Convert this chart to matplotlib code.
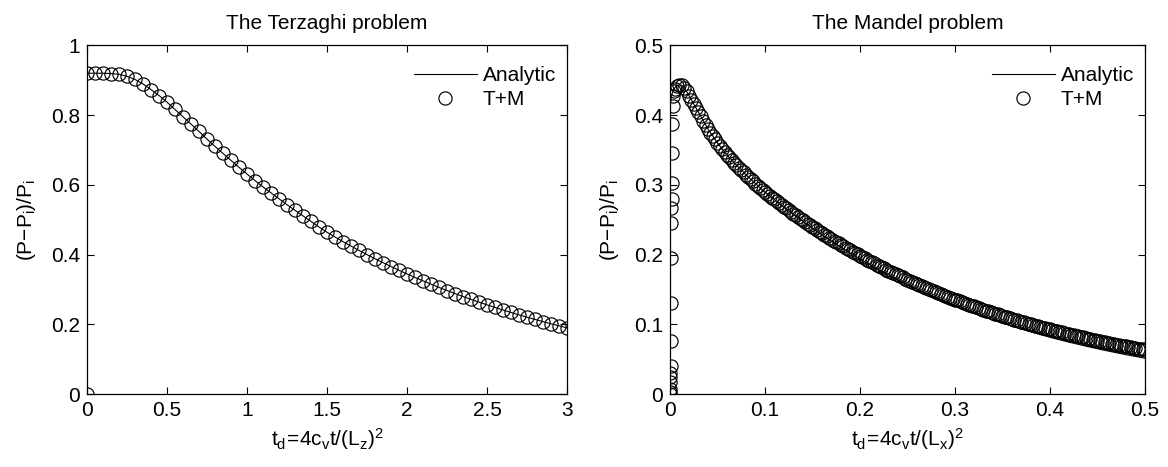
import numpy as np
import matplotlib
matplotlib.use('Agg')
import matplotlib.pyplot as plt
from matplotlib.ticker import FormatStrFormatter

plt.rcParams['font.family'] = ['Liberation Sans', 'DejaVu Sans']
plt.rcParams['font.size'] = 15
plt.rcParams['mathtext.fontset'] = 'custom'
plt.rcParams['mathtext.rm'] = 'Liberation Sans'
plt.rcParams['mathtext.it'] = 'Liberation Sans'

# ---- Terzaghi problem (left) ----
terz_t = [0.00, 0.05, 0.10, 0.15, 0.20, 0.25, 0.30, 0.35, 0.40, 0.45,
          0.50, 0.55, 0.60, 0.65, 0.70, 0.75, 0.80, 0.85, 0.90, 0.95,
          1.00, 1.05, 1.10, 1.15, 1.20, 1.25, 1.30, 1.35, 1.40, 1.45,
          1.50, 1.55, 1.60, 1.65, 1.70, 1.75, 1.80, 1.85, 1.90, 1.95,
          2.00, 2.05, 2.10, 2.15, 2.20, 2.25, 2.30, 2.35, 2.40, 2.45,
          2.50, 2.55, 2.60, 2.65, 2.70, 2.75, 2.80, 2.85, 2.90, 2.95, 3.00]
terz_p = [0.920, 0.920, 0.920, 0.919, 0.917, 0.911, 0.902, 0.889, 0.873, 0.856,
          0.837, 0.816, 0.795, 0.774, 0.753, 0.731, 0.710, 0.690, 0.670, 0.650,
          0.631, 0.612, 0.594, 0.577, 0.560, 0.543, 0.527, 0.511, 0.495, 0.479,
          0.4640, 0.4504, 0.4372, 0.4244, 0.4119, 0.3999, 0.3881, 0.3768, 0.3657, 0.3550,
          0.3446, 0.3345, 0.3247, 0.3152, 0.3059, 0.2970, 0.2883, 0.2798, 0.2716, 0.2637,
          0.2559, 0.2484, 0.2411, 0.2341, 0.2272, 0.2205, 0.2141, 0.2078, 0.2017, 0.1958, 0.1900]
# numerical result also has the initial state p=0 at t=0
terz_tm_t = [0.0] + terz_t
terz_tm_p = [0.0] + terz_p

# ---- Mandel problem (right) ----
# early time steps (vertical column near t=0)
mandel_t0 = [0.0, 0.0001, 0.0002, 0.0003, 0.0004, 0.0005, 0.0006, 0.0008, 0.0010, 0.0012,
             0.0014, 0.0016, 0.0018, 0.0020, 0.0023, 0.0026, 0.0030, 0.0035, 0.0040]
mandel_p0 = [0.000, 0.003, 0.008, 0.017, 0.024, 0.031, 0.040, 0.076, 0.131, 0.195,
             0.246, 0.267, 0.279, 0.302, 0.345, 0.387, 0.413, 0.427, 0.434]
# regular steps, dt = 0.0025 from 0.005 to 0.5
mandel_p = [
    0.4380, 0.4415, 0.4430, 0.4425, 0.4395, 0.4340, 0.4280, 0.4220, 0.4160, 0.4100,
    0.4040, 0.3980, 0.3920, 0.3860, 0.3800, 0.3750, 0.3700, 0.3650, 0.3600, 0.3557,
    0.3514, 0.3472, 0.3430, 0.3393, 0.3356, 0.3319, 0.3283, 0.3248, 0.3213, 0.3179,
    0.3145, 0.3113, 0.3081, 0.3049, 0.3018, 0.2988, 0.2958, 0.2929, 0.2900,
    0.2873, 0.2845, 0.2818, 0.2792, 0.2765, 0.2739, 0.2713, 0.2688, 0.2662, 0.2637,
    0.2612, 0.2588, 0.2563, 0.2539, 0.2515, 0.2491, 0.2468, 0.2444, 0.2421, 0.2398,
    0.2376, 0.2353, 0.2331, 0.2309, 0.2287, 0.2265, 0.2244, 0.2223, 0.2202, 0.2181,
    0.2160, 0.2140, 0.2120, 0.2100, 0.2080, 0.2060, 0.2041, 0.2021, 0.2002, 0.1983,
    0.1964, 0.1946, 0.1928, 0.1909, 0.1891, 0.1873, 0.1856, 0.1838, 0.1821, 0.1803,
    0.1786, 0.1770, 0.1753, 0.1736, 0.1720, 0.1704, 0.1687, 0.1672, 0.1656, 0.1640,
    0.1625, 0.1609, 0.1594, 0.1579, 0.1564, 0.1549, 0.1535, 0.1520, 0.1506, 0.1491,
    0.1477, 0.1463, 0.1449, 0.1436, 0.1422, 0.1409, 0.1395, 0.1382, 0.1369, 0.1356,
    0.1343, 0.1330, 0.1318, 0.1305, 0.1293, 0.1281, 0.1269, 0.1257, 0.1245, 0.1233,
    0.1221, 0.1210, 0.1198, 0.1187, 0.1176, 0.1165, 0.1154, 0.1143, 0.1132, 0.1121,
    0.1111, 0.1100, 0.1090, 0.1080, 0.1069, 0.1059, 0.1049, 0.1039, 0.1029, 0.1020,
    0.1010, 0.1001, 0.0991, 0.0982, 0.0972, 0.0963, 0.0954, 0.0945, 0.0936, 0.0927,
    0.0919, 0.0910, 0.0901, 0.0893, 0.0884, 0.0876, 0.0868, 0.0859, 0.0851, 0.0843,
    0.0835, 0.0827, 0.0820, 0.0812, 0.0804, 0.0797, 0.0789, 0.0782, 0.0774, 0.0767,
    0.0760, 0.0752, 0.0745, 0.0738, 0.0731, 0.0724, 0.0718, 0.0711, 0.0704, 0.0697,
    0.0691, 0.0684, 0.0678, 0.0671, 0.0665, 0.0659, 0.0653, 0.0646, 0.0640, 0.0634]
mandel_t = np.linspace(0.005, 0.5, len(mandel_p))

mandel_an_t = [0.0, 0.0, 0.0025, 0.005, 0.0075, 0.010, 0.0125, 0.015, 0.02, 0.03,
               0.04, 0.05, 0.06, 0.07, 0.08, 0.09, 0.10, 0.12, 0.14, 0.16,
               0.18, 0.20, 0.22, 0.24, 0.26, 0.28, 0.30, 0.32, 0.34, 0.36,
               0.38, 0.40, 0.42, 0.44, 0.46, 0.48, 0.50]
mandel_an_p = [0.0, 0.415, 0.432, 0.439, 0.4425, 0.443, 0.4425, 0.4395, 0.428, 0.404,
               0.380, 0.360, 0.343, 0.3283, 0.3145, 0.3018, 0.2895, 0.268, 0.2476, 0.2284,
               0.2105, 0.1935, 0.1781, 0.1638, 0.1505, 0.1381, 0.1265, 0.1160, 0.1062, 0.0973,
               0.0891, 0.0815, 0.0745, 0.0681, 0.0621, 0.0566, 0.0515]

fig = plt.figure(figsize=(11.68, 4.67), dpi=100)
ax1 = fig.add_axes([0.0745, 0.156, 0.411, 0.747])
ax2 = fig.add_axes([0.5736, 0.156, 0.4067, 0.747])

mk = dict(linestyle='none', marker='o', markersize=9.5, markerfacecolor='none',
          markeredgecolor='black', markeredgewidth=0.85)

ax1.plot(terz_t, terz_p, color='black', lw=0.8, label='Analytic')
ax1.plot(terz_tm_t, terz_tm_p, label='T+M', **mk)

ax2.plot(mandel_an_t, mandel_an_p, color='black', lw=0.8, label='Analytic')
ax2.plot(list(mandel_t0) + list(mandel_t), mandel_p0 + mandel_p, label='T+M', **mk)

ax1.set_xlim(0, 3)
ax1.set_ylim(0, 1)
ax1.set_xticks([0, 0.5, 1, 1.5, 2, 2.5, 3])
ax1.set_yticks([0, 0.2, 0.4, 0.6, 0.8, 1])
ax1.set_title('The Terzaghi problem', fontsize=15, pad=11.5)
ax1.set_xlabel(r'$\mathregular{t_d\!=\!4c_vt/(L_z)^2}$', labelpad=4)

ax2.set_xlim(0, 0.5)
ax2.set_ylim(0, 0.5)
ax2.set_xticks([0, 0.1, 0.2, 0.3, 0.4, 0.5])
ax2.set_yticks([0, 0.1, 0.2, 0.3, 0.4, 0.5])
ax2.set_title('The Mandel problem', fontsize=15, pad=11.5)
ax2.set_xlabel(r'$\mathregular{t_d\!=\!4c_vt/(L_x)^2}$', labelpad=4)

for ax in (ax1, ax2):
    ax.set_ylabel(r'$\mathregular{(P{-}P_i)/P_i}$', labelpad=9)
    ax.xaxis.set_major_formatter(FormatStrFormatter('%g'))
    ax.yaxis.set_major_formatter(FormatStrFormatter('%g'))
    ax.tick_params(direction='in', top=True, right=True, length=5, width=0.8,
                   labelsize=15, pad=5)
    for s in ax.spines.values():
        s.set_linewidth(0.9)
    ax.legend(loc='upper right', bbox_to_anchor=(0.977, 0.94), frameon=False,
              handlelength=3.0, handletextpad=0.3, labelspacing=0.25,
              borderaxespad=0, borderpad=0, fontsize=15)

fig.savefig('out.png', dpi=100)
